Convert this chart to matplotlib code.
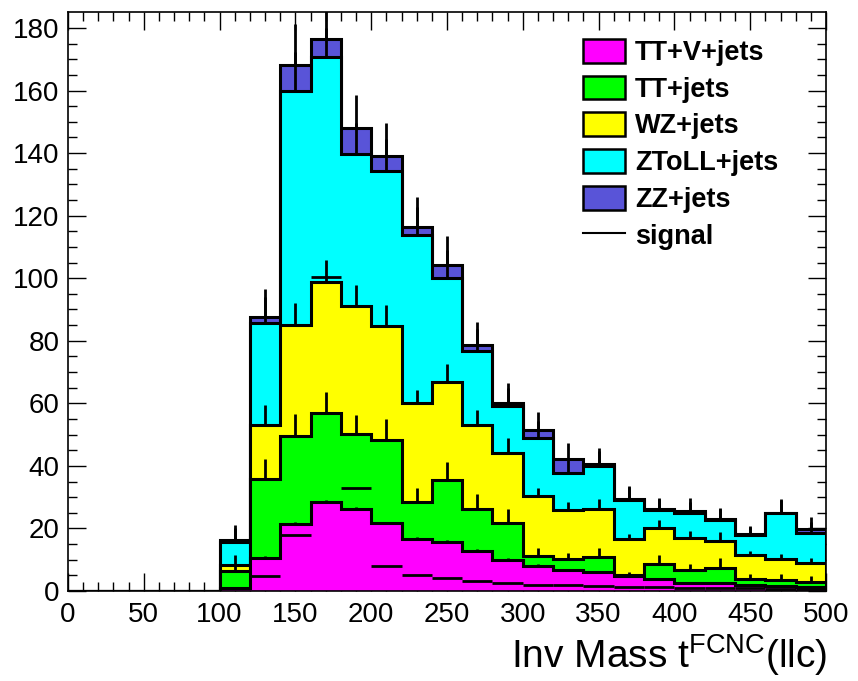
import numpy as np
import matplotlib
matplotlib.use("Agg")
import matplotlib.pyplot as plt
from matplotlib.patches import Patch
from matplotlib.lines import Line2D

plt.rcParams['font.family'] = ['Liberation Sans Narrow', 'Liberation Sans', 'DejaVu Sans']
plt.rcParams['mathtext.default'] = 'regular'

# bins of width 20 from 0 to 500
edges = np.arange(0, 520, 20)

# cumulative stack tops (as drawn), bins 0..24
ttv_cum = [0, 0, 0, 0, 0, 1.0, 10.5, 21.3, 28.4, 26.2, 21.6, 16.6, 15.8, 12.8, 9.9,
           8.0, 6.7, 6.0, 4.8, 3.7, 2.5, 2.5, 1.9, 1.6, 1.4]
tt_cum = [0, 0, 0, 0, 0, 6.4, 35.7, 49.7, 56.8, 50.1, 48.3, 28.4, 35.5, 26.2, 21.8,
          11.2, 10.1, 10.8, 5.0, 8.5, 6.7, 7.2, 3.7, 3.5, 3.0]
wz_cum = [0, 0, 0, 0, 0, 8.2, 53.1, 85.0, 98.7, 91.2, 84.7, 60.0, 66.9, 53.1, 44.2,
          30.5, 25.9, 26.2, 16.6, 20.0, 16.8, 16.1, 11.5, 10.1, 9.1]
zll_cum = [0, 0, 0, 0, 0, 15.8, 85.6, 160.0, 170.6, 139.6, 134.4, 113.8, 100.0, 76.8, 59.1,
           48.8, 37.6, 40.0, 29.1, 25.9, 24.8, 22.7, 17.9, 24.8, 18.4]
zz_cum = [0, 0, 0, 0, 0, 16.4, 87.7, 168.2, 176.5, 148.0, 139.2, 116.3, 104.1, 78.6, 60.2,
          51.5, 42.2, 40.5, 29.4, 26.1, 25.7, 22.9, 18.1, 25.0, 19.7]

# errors on each cumulative histogram (only the upper half shows)
ttv_err = [0, 0, 0, 0, 0, 0.4, 0.8, 0.6, 0.7, 0.7, 0.6, 0.6, 0.6, 0.5, 0.5,
           0.5, 0.4, 0.4, 0.4, 0.3, 0.3, 0.3, 0.3, 0.3, 0.3]
tt_err = [0, 0, 0, 0, 0, 1.5, 6.6, 6.8, 6.9, 6.1, 6.6, 4.4, 5.6, 4.7, 4.3,
          2.4, 2.2, 2.9, 1.0, 3.0, 1.8, 3.3, 1.7, 1.9, 1.8]
wz_err = [0, 0, 0, 0, 0, 3.4, 6.4, 7.0, 7.1, 6.6, 6.7, 4.3, 5.6, 4.8, 4.6,
          2.4, 2.4, 3.1, 1.5, 2.7, 2.4, 2.9, 1.3, 1.7, 1.4]
zll_err = [0, 0, 0, 0, 0, 4.5, 8.3, 12.4, 9.5, 10.0, 10.0, 9.1, 9.0, 7.1, 5.9,
           5.5, 4.8, 4.8, 4.1, 3.5, 3.7, 3.5, 2.6, 4.3, 3.7]
zz_err = [0, 0, 0, 0, 0, 4.8, 8.7, 13.0, 10.0, 10.6, 10.5, 9.6, 9.5, 7.5, 6.2,
          5.8, 5.0, 5.1, 4.3, 3.7, 3.9, 3.7, 2.7, 4.5, 3.9]

signal = [0, 0, 0, 0, 0, 0.8, 4.7, 17.9, 100.3, 32.8, 8.0, 5.2, 4.0, 3.2, 2.4,
          2.0, 1.8, 1.6, 1.3, 1.2, 1.0, 0.9, 0.8, 0.7, 0.6]

labels = ['TT+V+jets', 'TT+jets', 'WZ+jets', 'ZToLL+jets', 'ZZ+jets']
colors = ['#ff00ff', '#00ff00', '#ffff00', '#00ffff', '#5954d8']

fig = plt.figure(figsize=(8.58, 6.81), dpi=100)
ax = fig.add_axes([68 / 858, 90 / 681, 758 / 858, 579 / 681])

centers = 0.5 * (edges[:-1] + edges[1:])
layers = [ttv_cum, tt_cum, wz_cum, zll_cum, zz_cum]
errs = [ttv_err, tt_err, wz_err, zll_err, zz_err]

# draw from the top of the stack downwards, like ROOT does
z = 1
for cum, err, col in reversed(list(zip(layers, errs, colors))):
    cum = np.array(cum)
    err = np.array(err)
    ax.stairs(cum, edges, fill=True, facecolor=col, edgecolor='none', zorder=z)
    ax.stairs(cum, edges, baseline=0, color='black', linewidth=2.2, zorder=z + 0.1)
    m = cum > 0
    ax.vlines(centers[m], cum[m], (cum + err)[m], color='black', linewidth=2.0,
              zorder=z + 0.2)
    z += 1

# signal as horizontal bin lines
sig = np.array(signal)
ax.hlines(sig[sig > 0], edges[:-1][sig > 0], edges[1:][sig > 0],
          color='black', linewidth=2.0, zorder=z)

ax.set_xlim(0, 500)
ax.set_ylim(0, 185.1)
ax.set_xticks(np.arange(0, 501, 50))
ax.set_xticks(np.arange(0, 501, 10), minor=True)
ax.set_yticks(np.arange(0, 181, 20))
ax.set_yticks(np.arange(0, 185, 5), minor=True)
ax.tick_params(which='both', direction='in', top=True, right=True, labelsize=20,
               width=1.0, zorder=20)
ax.tick_params(which='major', length=13)
ax.tick_params(which='minor', length=6.5)
ax.tick_params(axis='x', pad=8)
ax.tick_params(axis='y', pad=6)
for s in ax.spines.values():
    s.set_linewidth(1.2)
    s.set_zorder(20)

fig.text(827 / 858, 13 / 681, r'Inv Mass t$^{FCNC}$(llc)', ha='right', va='baseline',
         fontsize=28)

handles = [Patch(facecolor=c, edgecolor='black', linewidth=1.8) for c in colors]
handles.append(Line2D([], [], color='black', linewidth=1.5))
fig.legend(handles, labels + ['signal'], loc='upper left',
           bbox_to_anchor=(572 / 858, 1 - 28 / 681), frameon=False,
           prop={'family': 'Liberation Sans', 'weight': 'bold', 'size': 19.5},
           handlelength=1.55, handleheight=0.98, labelspacing=0.35,
           handletextpad=0.38, borderaxespad=0)

fig.savefig('out.png', dpi=100)
